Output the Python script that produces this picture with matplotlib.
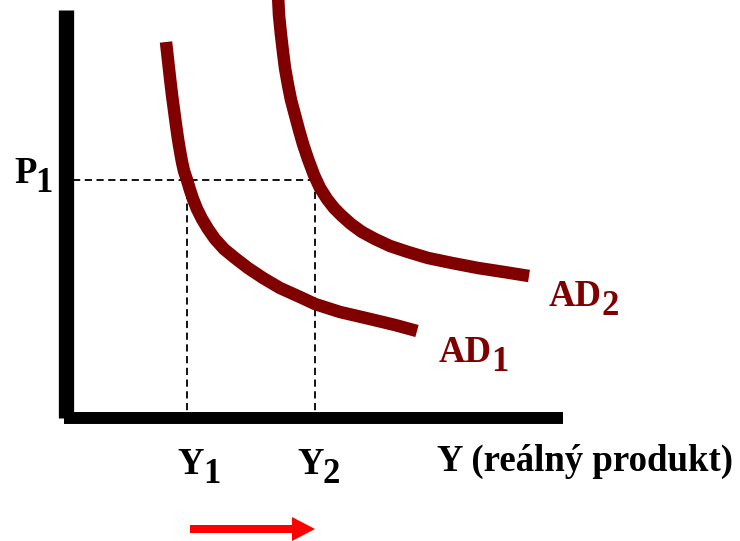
import matplotlib.pyplot as plt
from matplotlib.patches import FancyArrow

# curves (pixel space, y grows downwards)
ad1_x = [166, 168, 170, 172, 174, 176, 178, 180, 182, 184, 187, 190, 193, 197, 202, 208, 215, 224, 235,
         248, 263, 280, 300, 315, 340, 370, 395, 417]
ad1_y = [42, 60, 78, 95, 110, 125, 139, 151, 162, 171, 180, 190, 199, 209, 219, 229, 239, 249, 258,
         268, 278, 288, 297, 304, 312, 319, 325, 331]
ad2_x = [278, 279, 281, 283, 285, 288, 291, 295, 299, 303, 308, 314, 320, 327, 334, 342, 351, 362, 375,
         390, 408, 428, 452, 478, 504, 529]
ad2_y = [-5, 15, 35, 52, 68, 85, 100, 115, 130, 144, 159, 175, 188, 199, 208, 216, 224, 232, 239,
         246, 252, 258, 263, 268, 272, 276]

p1 = 180
y1 = 187
y2 = 315

fig = plt.figure(figsize=(7.4, 5.41), dpi=100)
ax = fig.add_axes([0, 0, 1, 1])
ax.set_xlim(0, 740)
ax.set_ylim(541, 0)
ax.axis('off')

# axes
ax.plot([65.5, 65.5], [10, 418], color='black', lw=11, solid_capstyle='butt')
ax.plot([64, 563], [418, 418], color='black', lw=8.6, solid_capstyle='butt')

# dashed guides
dash = dict(color='black', lw=1.3, ls=(0, (4, 2.5)))
ax.plot([73, y2], [p1, p1], **dash)
ax.plot([y1, y1], [p1, 412], **dash)
ax.plot([y2, y2], [p1, 412], **dash)

# demand curves
red = '#800000'
ax.plot(ad1_x, ad1_y, color=red, lw=9, solid_capstyle='butt', solid_joinstyle='round')
ax.plot(ad2_x, ad2_y, color=red, lw=9, solid_capstyle='butt', solid_joinstyle='round')

font = dict(fontfamily='Liberation Serif', fontweight='bold', va='baseline')


def label(x, y, main, sub, color='black'):
    t = ax.text(x, y, main, color=color, ha='left', fontsize=26.5, **font)
    ax.annotate(sub, xy=(1, 0), xycoords=t, xytext=(-0.5, -1), textcoords='offset points',
                color=color, ha='left', fontsize=25, **font)


label(14, 183, 'P', '1')
label(177, 474, 'Y', '1')
label(297, 474, 'Y', '2')
label(549, 306, 'AD', '2', red)
label(439, 362, 'AD', '1', red)
ax.text(437, 471, 'Y (reálný produkt)', ha='left', fontsize=26.5, **font)

# shift arrow
ax.add_patch(FancyArrow(190, 529, 102, 0, width=8, head_width=24, head_length=23,
                        length_includes_head=False, color='red', lw=0))

fig.savefig('out.png', dpi=100)
